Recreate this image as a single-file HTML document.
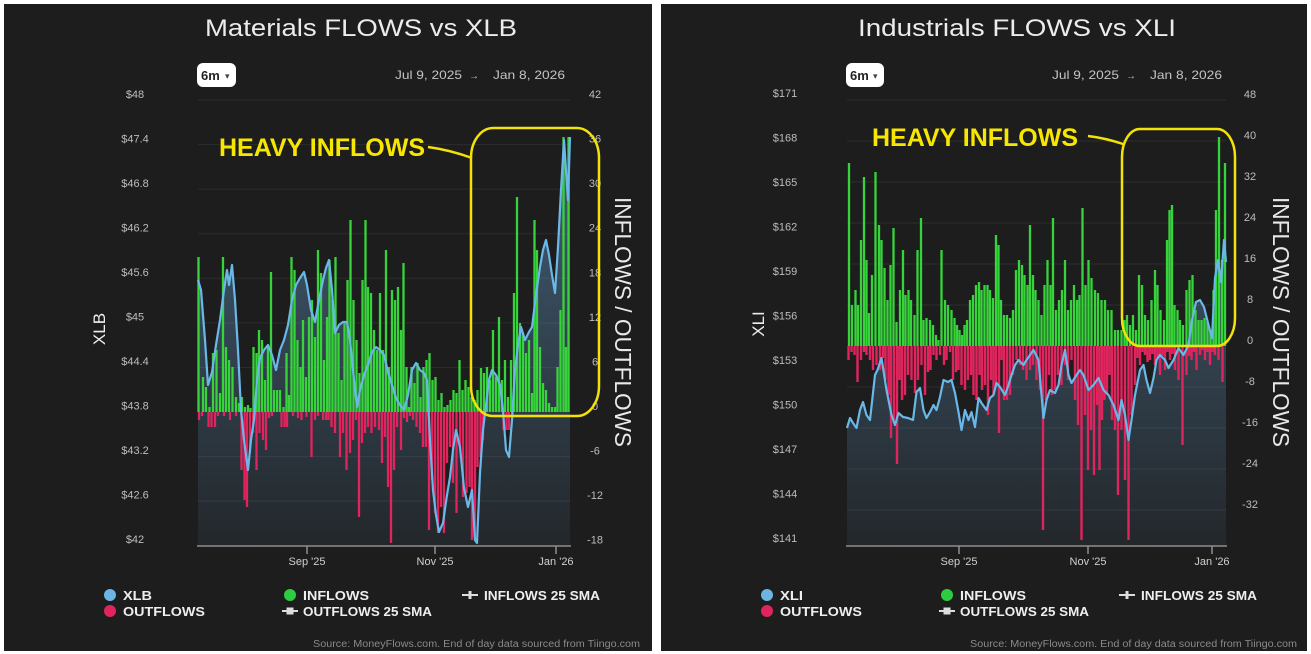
<!DOCTYPE html>
<html><head><meta charset="utf-8"><style>
html,body{margin:0;padding:0;background:#fff;}
svg{display:block;}
text{font-family:"Liberation Sans",sans-serif;}
</style></head><body>
<svg width="1311" height="654" viewBox="0 0 1311 654" xmlns="http://www.w3.org/2000/svg">
<defs>
<linearGradient id="gA" x1="0" y1="100" x2="0" y2="546" gradientUnits="userSpaceOnUse">
<stop offset="0" stop-color="#6eaadc" stop-opacity="0.5"/>
<stop offset="1" stop-color="#6eaadc" stop-opacity="0.07"/>
</linearGradient>
</defs>
<rect x="0" y="0" width="1311" height="654" fill="#fff"/>
<!-- LEFT PANEL -->
<rect x="4" y="4" width="648" height="647" fill="#1d1d1d"/>
<text x="361" y="36" font-size="24" fill="#ececec" text-anchor="middle" textLength="312" lengthAdjust="spacingAndGlyphs">Materials FLOWS vs XLB</text>
<rect x="197" y="63" width="39" height="24" rx="6" fill="#fff"/>
<text x="201" y="80" font-size="13" font-weight="bold" fill="#222">6m</text>
<text x="225" y="79" font-size="9" fill="#444">▾</text>
<text x="395" y="79" font-size="12" fill="#c4c4c4" textLength="67" lengthAdjust="spacingAndGlyphs">Jul 9, 2025</text>
<text x="474" y="79" font-size="10" fill="#c4c4c4" text-anchor="middle">→</text>
<text x="493" y="79" font-size="12" fill="#c4c4c4" textLength="72" lengthAdjust="spacingAndGlyphs">Jan 8, 2026</text>
<g stroke="#2d2d2d" stroke-width="1">
<line x1="198" x2="570" y1="100" y2="100"/><line x1="198" x2="570" y1="144.6" y2="144.6"/><line x1="198" x2="570" y1="189.1" y2="189.1"/><line x1="198" x2="570" y1="233.7" y2="233.7"/><line x1="198" x2="570" y1="278.3" y2="278.3"/><line x1="198" x2="570" y1="322.9" y2="322.9"/><line x1="198" x2="570" y1="367.4" y2="367.4"/><line x1="198" x2="570" y1="456.6" y2="456.6"/><line x1="198" x2="570" y1="501.1" y2="501.1"/>
</g>
<g font-size="11" fill="#bdbdbd" text-anchor="middle">
<text x="135" y="98">$48</text><text x="135" y="142.5">$47.4</text><text x="135" y="187">$46.8</text><text x="135" y="231.5">$46.2</text><text x="135" y="276">$45.6</text><text x="135" y="320.5">$45</text><text x="135" y="365">$44.4</text><text x="135" y="409.5">$43.8</text><text x="135" y="454">$43.2</text><text x="135" y="498.5">$42.6</text><text x="135" y="543">$42</text>
<text x="595" y="98">42</text><text x="595" y="142.6">36</text><text x="595" y="187.1">30</text><text x="595" y="231.7">24</text><text x="595" y="276.3">18</text><text x="595" y="320.9">12</text><text x="595" y="365.4">6</text><text x="595" y="410">0</text><text x="595" y="454.6">-6</text><text x="595" y="499.1">-12</text><text x="595" y="543.7">-18</text>
</g>
<text transform="translate(105,329) rotate(-90)" font-size="17" fill="#eee" text-anchor="middle">XLB</text>
<text transform="translate(615,322) rotate(90)" font-size="23" fill="#e8e8e8" text-anchor="middle" textLength="250" lengthAdjust="spacingAndGlyphs">INFLOWS / OUTFLOWS</text>
<polygon fill="url(#gA)" points="198,546 198,280 201,290 205,340 208,385 212,372 216,345 220,320 224,290 227,270 229,285 232,265 235,300 238,350 241,410 244,440 248,470 251,440 254,420 257,380 260,358 264,350 268,345 272,355 276,370 280,350 284,340 288,325 292,300 296,285 300,278 304,272 307,285 311,310 315,322 319,300 323,280 326,268 329,260 332,290 335,333 339,325 343,322 347,322 350,340 354,380 357,407 360,390 364,375 368,365 372,352 376,347 380,350 384,355 388,372 392,385 396,398 400,405 404,410 408,395 412,370 416,363 420,370 424,373 427,380 430,440 433,490 436,515 439,532 443,523 447,495 450,477 453,450 456,430 460,447 464,488 468,507 472,490 475,540 477,543 480,473 483,430 486,405 489,380 492,370 496,375 500,385 503,410 506,450 509,457 512,420 515,370 518,345 521,327 525,340 529,332 532,327 536,295 540,267 543,250 546,240 549,255 552,275 555,293 558,247 561,190 564,140 566,170 568,200 570,137 570,546"/>
<path stroke="#36d43a" stroke-width="2.3" fill="none" d="M198.5 412V257M203 412V377M206 412V387M209.5 412V407M213 412V353M216.5 412V350M220 412V393M223 412V257M226 412V347M229 412V360M232.5 412V367M236 412V397M239 412V403M242 412V397M245 412V407M248 412V405M250.5 412V408M253.5 412V347M256.5 412V353M259 412V330M262 412V340M265 412V380M268 412V347M271 412V272M274 412V390M277 412V390M280 412V390M283.5 412V407M286.5 412V353M289 412V395M291.5 412V257M294.5 412V270M297.5 412V340M300.5 412V367M303 412V320M306 412V377M309 412V317M312 412V300M315 412V337M318 412V250M321 412V273M324 412V360M327 412V317M329.5 412V260M332.5 412V300M335.5 412V257M338.5 412V333M341.5 412V380M344.5 412V323M347.5 412V280M350.5 412V220M353.5 412V300M356.5 412V340M359.5 412V373M362.5 412V280M365.5 412V220M368 412V287M371 412V293M374 412V330M377 412V350M380 412V293M383 412V350M386 412V250M389 412V367M392 412V290M395 412V300M398 412V287M401 412V330M403.5 412V263M406.5 412V367M409 412V407M411.5 412V367M414.5 412V383M417.5 412V363M420.5 412V397M423.5 412V367M426.5 412V360M429.5 412V353M432.5 412V380M435.5 412V377M438.5 412V400M441.5 412V393M444.5 412V407M447.5 412V405M450.5 412V400M453.5 412V390M456.5 412V393M459.5 412V360M462.5 412V390M465.5 412V380M468.5 412V387M471.5 412V397M474.5 412V400M477.5 412V390M481 412V368M484 412V373M487 412V367M490 412V380M493 412V330M496 412V377M499 412V317M502 412V380M505 412V360M508 412V397M511 412V360M514 412V293M517 412V197M520 412V323M523 412V333M526 412V353M529 412V340M532 412V393M534.5 412V220M537 412V250M540 412V347M543 412V383M546 412V390M549 412V403M552 412V407M555 412V407M557.5 412V367M560.5 412V310M563.5 412V137M566 412V347M568.5 412V137"/>
<path stroke="#e0245e" stroke-width="2.3" fill="none" d="M199 412V420M202 412V416M208.5 412V427M211.5 412V427M215 412V427M218 412V416M224 412V416M230 412V420M236 412V416M241.5 412V470M244.5 412V500M247 412V507M250 412V453M253 412V433M256.5 412V470M259.5 412V433M263 412V440M266 412V450M269 412V418M272 412V416M281.5 412V427M284.5 412V427M287 412V427M293 412V416M298 412V418M301.5 412V420M306.5 412V417M311.5 412V457M315 412V420M318 412V416M323 412V420M326 412V420M328.5 412V420M331.5 412V427M335 412V433M340 412V457M343 412V433M346.5 412V470M350 412V453M353 412V440M356 412V420M359 412V517M362 412V443M365 412V433M368 412V427M371.5 412V433M375 412V427M379 412V430M382 412V463M385 412V437M388 412V487M391 412V543M394 412V470M397 412V427M401 412V450M404 412V418M407 412V422M410 412V416M413 412V420M416.5 412V427M420 412V433M423 412V447M426 412V447M429 412V530M432 412V480M435 412V513M438 412V533M441 412V507M444 412V533M447 412V463M450 412V447M453 412V483M456.5 412V513M460 412V447M463 412V497M466.5 412V493M469.5 412V487M472 412V540M475 412V537M477.5 412V467M480.5 412V457M483 412V440M503.5 412V430M506.5 412V430M509 412V430M512 412V417"/>
<polyline fill="none" stroke="#6ab8e8" stroke-width="2.2" stroke-linejoin="round" points="198,280 201,290 205,340 208,385 212,372 216,345 220,320 224,290 227,270 229,285 232,265 235,300 238,350 241,410 244,440 248,470 251,440 254,420 257,380 260,358 264,350 268,345 272,355 276,370 280,350 284,340 288,325 292,300 296,285 300,278 304,272 307,285 311,310 315,322 319,300 323,280 326,268 329,260 332,290 335,333 339,325 343,322 347,322 350,340 354,380 357,407 360,390 364,375 368,365 372,352 376,347 380,350 384,355 388,372 392,385 396,398 400,405 404,410 408,395 412,370 416,363 420,370 424,373 427,380 430,440 433,490 436,515 439,532 443,523 447,495 450,477 453,450 456,430 460,447 464,488 468,507 472,490 475,540 477,543 480,473 483,430 486,405 489,380 492,370 496,375 500,385 503,410 506,450 509,457 512,420 515,370 518,345 521,327 525,340 529,332 532,327 536,295 540,267 543,250 546,240 549,255 552,275 555,293 558,247 561,190 564,140 566,170 568,200 570,137"/>
<line x1="197" x2="571" y1="546" y2="546" stroke="#8e8e8e" stroke-width="1.5"/>
<g stroke="#8e8e8e" stroke-width="1.5"><line x1="307" x2="307" y1="546" y2="554"/><line x1="435" x2="435" y1="546" y2="554"/><line x1="556" x2="556" y1="546" y2="554"/></g>
<g font-size="11" fill="#cfcfcf" text-anchor="middle"><text x="307" y="565">Sep '25</text><text x="435" y="565">Nov '25</text><text x="556" y="565">Jan '26</text></g>
<rect x="471" y="128" width="128" height="288" rx="22" ry="30" fill="none" stroke="#f2e20a" stroke-width="2.5"/>
<path d="M428 147 Q450 150 472 158" fill="none" stroke="#f2e20a" stroke-width="2.5"/>
<text x="219" y="156" font-size="25" font-weight="bold" fill="#f7e600" textLength="206" lengthAdjust="spacingAndGlyphs">HEAVY INFLOWS</text>
<circle cx="110" cy="595" r="6" fill="#6cb4e4"/>
<circle cx="110" cy="611" r="6" fill="#e0245e"/>
<circle cx="290" cy="595" r="6" fill="#2ecc40"/>
<line x1="282" x2="298" y1="611" y2="611" stroke="#ddd" stroke-width="2"/><rect x="286.5" y="607.5" width="7" height="7" fill="#ddd"/>
<line x1="462" x2="478" y1="595" y2="595" stroke="#ddd" stroke-width="2"/><rect x="468.5" y="591" width="3" height="8" fill="#ddd"/>
<g font-size="13" font-weight="bold" fill="#eee">
<text x="123" y="600" textLength="29" lengthAdjust="spacingAndGlyphs">XLB</text>
<text x="123" y="616" textLength="82" lengthAdjust="spacingAndGlyphs">OUTFLOWS</text>
<text x="303" y="600" textLength="66" lengthAdjust="spacingAndGlyphs">INFLOWS</text>
<text x="303" y="616" textLength="129" lengthAdjust="spacingAndGlyphs">OUTFLOWS 25 SMA</text>
<text x="484" y="600" textLength="116" lengthAdjust="spacingAndGlyphs">INFLOWS 25 SMA</text>
</g>
<text x="640" y="647" font-size="10" fill="#8a8a8a" text-anchor="end" textLength="327" lengthAdjust="spacingAndGlyphs">Source: MoneyFlows.com. End of day data sourced from Tiingo.com</text>

<!-- RIGHT PANEL -->
<rect x="661" y="4" width="646" height="647" fill="#1d1d1d"/>
<text x="1017" y="36" font-size="24" fill="#ececec" text-anchor="middle" textLength="318" lengthAdjust="spacingAndGlyphs">Industrials FLOWS vs XLI</text>
<rect x="846" y="63" width="38" height="24" rx="6" fill="#fff"/>
<text x="850" y="80" font-size="13" font-weight="bold" fill="#222">6m</text>
<text x="873" y="79" font-size="9" fill="#444">▾</text>
<text x="1052" y="79" font-size="12" fill="#c4c4c4" textLength="67" lengthAdjust="spacingAndGlyphs">Jul 9, 2025</text>
<text x="1131" y="79" font-size="10" fill="#c4c4c4" text-anchor="middle">→</text>
<text x="1150" y="79" font-size="12" fill="#c4c4c4" textLength="72" lengthAdjust="spacingAndGlyphs">Jan 8, 2026</text>
<g stroke="#2d2d2d" stroke-width="1">
<line x1="847" x2="1226" y1="100" y2="100"/><line x1="847" x2="1226" y1="141" y2="141"/><line x1="847" x2="1226" y1="182" y2="182"/><line x1="847" x2="1226" y1="223" y2="223"/><line x1="847" x2="1226" y1="264" y2="264"/><line x1="847" x2="1226" y1="305" y2="305"/><line x1="847" x2="1226" y1="387" y2="387"/><line x1="847" x2="1226" y1="428" y2="428"/><line x1="847" x2="1226" y1="469" y2="469"/><line x1="847" x2="1226" y1="510" y2="510"/>
</g>
<g font-size="11" fill="#bdbdbd" text-anchor="middle">
<text x="785" y="97">$171</text><text x="785" y="141.5">$168</text><text x="785" y="186">$165</text><text x="785" y="230.5">$162</text><text x="785" y="275">$159</text><text x="785" y="319.5">$156</text><text x="785" y="364">$153</text><text x="785" y="408.5">$150</text><text x="785" y="453">$147</text><text x="785" y="497.5">$144</text><text x="785" y="542">$141</text>
<text x="1250" y="98">48</text><text x="1250" y="139">40</text><text x="1250" y="180">32</text><text x="1250" y="221">24</text><text x="1250" y="262">16</text><text x="1250" y="303">8</text><text x="1250" y="344">0</text><text x="1250" y="385">-8</text><text x="1250" y="426">-16</text><text x="1250" y="467">-24</text><text x="1250" y="508">-32</text>
</g>
<text transform="translate(764,324) rotate(-90)" font-size="17" fill="#eee" text-anchor="middle">XLI</text>
<text transform="translate(1273,322) rotate(90)" font-size="23" fill="#e8e8e8" text-anchor="middle" textLength="250" lengthAdjust="spacingAndGlyphs">INFLOWS / OUTFLOWS</text>
<polygon fill="url(#gA)" points="847,546 847,428 850,418 853,423 856.5,428 860,410 863,402 866.5,415 870,420 875,375 877.5,370 881.5,358 886.5,390 891.5,415 895,425 898.5,413 903,417 908,418 913,420 916.5,392 920,388 923.5,410 926.5,418 930,412 933.5,405 936.5,410 940,397 943.5,380 948,382 951.5,380 955,393 958.5,412 961.5,430 965,410 968.5,420 971.5,412 975,427 978.5,398 981.5,403 986.5,410 990,398 993.5,395 996.5,383 1000,387 1005,395 1008.5,385 1011.5,375 1015,365 1018.5,360 1023.5,365 1026.5,360 1030,355 1033.5,350 1038.5,360 1041.5,395 1043.5,418 1046.5,400 1050,390 1055,393 1058.5,385 1061.5,365 1065,350 1068.5,375 1071.5,383 1076.5,375 1080,370 1083.5,375 1088.5,390 1093.5,385 1098.5,378 1103.5,390 1108.5,395 1113.5,405 1118.5,420 1121.5,400 1125,415 1128.5,440 1131.5,420 1135,395 1140,370 1143.5,365 1146.5,380 1150,393 1153.5,378 1156.5,360 1160,355 1165,360 1168.5,368 1173.5,360 1178.5,348 1183.5,355 1188.5,345 1192,320 1196,302 1200,300 1204,307 1208,323 1212,338 1215,278 1218,260 1221,282 1224,240 1226,262 1226,546"/>
<path stroke="#36d43a" stroke-width="2.3" fill="none" d="M849 346V163M852 346V305M855.5 346V290M858 346V305M861 346V240M864 346V177M866.5 346V260M869 346V313M872 346V275M875.5 346V172M879 346V225M881.5 346V240M884.5 346V268M887.5 346V300M890.5 346V265M893.5 346V228M896.5 346V322M900 346V290M903 346V250M905.5 346V295M908.5 346V290M911 346V300M914.5 346V315M917.5 346V250M921 346V218M923.5 346V320M926.5 346V318M930 346V320M933 346V325M936 346V335M938.5 346V340M941.5 346V250M945 346V300M948 346V305M951.5 346V310M954.5 346V318M957 346V325M959.5 346V330M962 346V335M964.5 346V325M967 346V320M970 346V300M973 346V295M976 346V285M979 346V282M981.5 346V290M984.5 346V285M987.5 346V285M990 346V290M993 346V298M996 346V235M998.5 346V245M1001 346V300M1004 346V315M1007 346V315M1010 346V318M1013 346V310M1016 346V270M1019 346V260M1022 346V265M1024.5 346V275M1027.5 346V285M1030 346V225M1033 346V275M1035.5 346V290M1038.5 346V300M1041.5 346V315M1044.5 346V285M1047.5 346V260M1050.5 346V285M1053 346V218M1056 346V310M1059 346V300M1062 346V290M1065 346V260M1068 346V310M1071 346V300M1074 346V285M1077 346V300M1079.5 346V295M1082.5 346V208M1085.5 346V285M1088.5 346V260M1091.5 346V278M1095 346V290M1098 346V293M1101.5 346V300M1105 346V300M1108 346V310M1111.5 346V310M1115 346V330M1118 346V330M1121.5 346V330M1124.5 346V320M1127 346V315M1130 346V325M1133 346V315M1136 346V330M1139 346V275M1142 346V285M1145 346V315M1148 346V320M1151.5 346V300M1155 346V270M1157.5 346V285M1160.5 346V310M1164 346V320M1167 346V240M1169.5 346V210M1172 346V205M1174.5 346V305M1177.5 346V310M1180 346V320M1183 346V325M1186.5 346V290M1189.5 346V280M1192.5 346V275M1195.5 346V310M1198.5 346V320M1201.5 346V320M1204.5 346V318M1207.5 346V322M1210.5 346V330M1213.5 346V290M1216 346V210M1219 346V137M1222 346V260M1225 346V163"/>
<path stroke="#e0245e" stroke-width="2.4" fill="none" d="M848.5 346V360M851.5 346V352M854.5 346V355M857.5 346V382M861 346V360M864 346V352M866.5 346V355M870 346V360M873 346V370M876.5 346V365M880 346V370M883 346V358M885.5 346V380M888.5 346V395M891 346V438M894 346V420M897 346V464M899.5 346V380M902 346V400M905 346V395M908 346V375M911.5 346V380M915 346V393M918 346V380M921.5 346V365M925 346V395M928 346V372M930.5 346V370M933.5 346V355M936.5 346V360M940 346V355M944 346V365M946.5 346V360M950 346V352M953 346V380M956 346V372M958.5 346V370M961.5 346V385M965 346V390M968 346V380M971 346V375M973.5 346V395M976.5 346V400M979.5 346V375M982 346V390M985 346V385M988 346V415M991 346V380M993.5 346V395M996 346V385M999 346V433M1001.5 346V360M1004 346V400M1007 346V400M1010 346V395M1013 346V375M1016.5 346V360M1020 346V365M1023 346V370M1026.5 346V380M1030 346V370M1033 346V365M1036.5 346V380M1040 346V390M1043 346V530M1046 346V400M1049 346V375M1052 346V395M1055 346V390M1058 346V375M1061.5 346V385M1065 346V365M1068 346V380M1071.5 346V360M1075 346V400M1078 346V425M1081.5 346V540M1085 346V415M1088 346V470M1091 346V430M1094 346V475M1097 346V405M1099.5 346V470M1102 346V420M1104.5 346V400M1107 346V395M1109.5 346V375M1112 346V420M1115 346V430M1118 346V495M1121.5 346V430M1125 346V480M1128.5 346V540M1131.5 346V415M1135 346V385M1137.5 346V358M1140 346V365M1142.5 346V352M1145 346V355M1147.5 346V362M1150 346V360M1152.5 346V354M1155 346V365M1157.5 346V358M1160 346V375M1162.5 346V356M1165 346V370M1167.5 346V352M1170 346V360M1172.5 346V354M1175 346V370M1178.5 346V380M1182.5 346V445M1186.5 346V375M1189 346V356M1191.5 346V360M1194 346V352M1196.5 346V370M1200 346V355M1202.5 346V350M1205 346V360M1207.5 346V352M1210 346V365M1212.5 346V352M1215 346V355M1218.5 346V360M1222.5 346V382"/>
<polyline fill="none" stroke="#6ab8e8" stroke-width="2.2" stroke-linejoin="round" points="847,428 850,418 853,423 856.5,428 860,410 863,402 866.5,415 870,420 875,375 877.5,370 881.5,358 886.5,390 891.5,415 895,425 898.5,413 903,417 908,418 913,420 916.5,392 920,388 923.5,410 926.5,418 930,412 933.5,405 936.5,410 940,397 943.5,380 948,382 951.5,380 955,393 958.5,412 961.5,430 965,410 968.5,420 971.5,412 975,427 978.5,398 981.5,403 986.5,410 990,398 993.5,395 996.5,383 1000,387 1005,395 1008.5,385 1011.5,375 1015,365 1018.5,360 1023.5,365 1026.5,360 1030,355 1033.5,350 1038.5,360 1041.5,395 1043.5,418 1046.5,400 1050,390 1055,393 1058.5,385 1061.5,365 1065,350 1068.5,375 1071.5,383 1076.5,375 1080,370 1083.5,375 1088.5,390 1093.5,385 1098.5,378 1103.5,390 1108.5,395 1113.5,405 1118.5,420 1121.5,400 1125,415 1128.5,440 1131.5,420 1135,395 1140,370 1143.5,365 1146.5,380 1150,393 1153.5,378 1156.5,360 1160,355 1165,360 1168.5,368 1173.5,360 1178.5,348 1183.5,355 1188.5,345 1192,320 1196,302 1200,300 1204,307 1208,323 1212,338 1215,278 1218,260 1221,282 1224,240 1226,262"/>
<line x1="846" x2="1227" y1="546" y2="546" stroke="#8e8e8e" stroke-width="1.5"/>
<g stroke="#8e8e8e" stroke-width="1.5"><line x1="959" x2="959" y1="546" y2="554"/><line x1="1088" x2="1088" y1="546" y2="554"/><line x1="1212" x2="1212" y1="546" y2="554"/></g>
<g font-size="11" fill="#cfcfcf" text-anchor="middle"><text x="959" y="565">Sep '25</text><text x="1088" y="565">Nov '25</text><text x="1212" y="565">Jan '26</text></g>
<rect x="1122" y="129" width="113" height="217" rx="18" ry="28" fill="none" stroke="#f2e20a" stroke-width="2.5"/>
<path d="M1088 136 Q1105 138 1123 144" fill="none" stroke="#f2e20a" stroke-width="2.5"/>
<text x="872" y="146" font-size="25" font-weight="bold" fill="#f7e600" textLength="206" lengthAdjust="spacingAndGlyphs">HEAVY INFLOWS</text>
<circle cx="767" cy="595" r="6" fill="#6cb4e4"/>
<circle cx="767" cy="611" r="6" fill="#e0245e"/>
<circle cx="947" cy="595" r="6" fill="#2ecc40"/>
<line x1="939" x2="955" y1="611" y2="611" stroke="#ddd" stroke-width="2"/><rect x="943.5" y="607.5" width="7" height="7" fill="#ddd"/>
<line x1="1119" x2="1135" y1="595" y2="595" stroke="#ddd" stroke-width="2"/><rect x="1125.5" y="591" width="3" height="8" fill="#ddd"/>
<g font-size="13" font-weight="bold" fill="#eee">
<text x="780" y="600" textLength="23" lengthAdjust="spacingAndGlyphs">XLI</text>
<text x="780" y="616" textLength="82" lengthAdjust="spacingAndGlyphs">OUTFLOWS</text>
<text x="960" y="600" textLength="66" lengthAdjust="spacingAndGlyphs">INFLOWS</text>
<text x="960" y="616" textLength="129" lengthAdjust="spacingAndGlyphs">OUTFLOWS 25 SMA</text>
<text x="1141" y="600" textLength="116" lengthAdjust="spacingAndGlyphs">INFLOWS 25 SMA</text>
</g>
<text x="1297" y="647" font-size="10" fill="#8a8a8a" text-anchor="end" textLength="327" lengthAdjust="spacingAndGlyphs">Source: MoneyFlows.com. End of day data sourced from Tiingo.com</text>
</svg>
</body></html>
